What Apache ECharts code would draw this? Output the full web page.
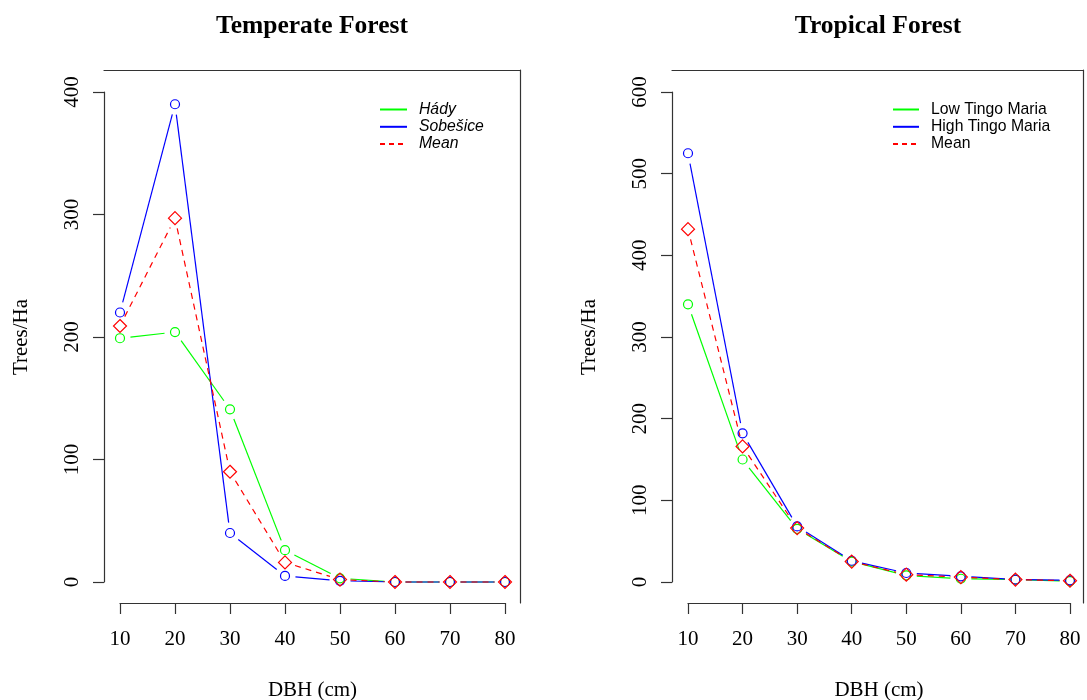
<!DOCTYPE html>
<html>
<head>
<meta charset="utf-8">
<script src="https://cdn.jsdelivr.net/npm/echarts@6/dist/echarts.min.js"></script>
<style>
  html, body { margin: 0; padding: 0; background: #fff; }
  #chart { width: 1087px; height: 700px; }
</style>
</head>
<body>
<div id="chart"></div>
<script>
// Diameter classes (cm) shared by both panels
const dbhClasses = [10, 20, 30, 40, 50, 60, 70, 80];

// Temperate forest stands, trees per hectare
const hadyDensity     = [199, 204, 141, 26, 3, 0, 0, 0];
const sobesiceDensity = [220, 390, 40, 5, 1, 0, 0, 0];
const temperateMean   = [209, 297, 90, 16, 2, 0, 0, 0];

// Tropical forest stands, trees per hectare
const lowTingoDensity  = [340, 150, 65, 25, 8, 4, 3, 1];
const highTingoDensity = [525, 182, 68, 26, 11, 7, 3, 2];
const tropicalMean     = [432, 166, 66, 25, 9, 6, 3, 1.5];

// Axis ticks
const temperateYTicks = [0, 100, 200, 300, 400];
const tropicalYTicks  = [0, 100, 200, 300, 400, 500, 600];

const SERIF = '"Liberation Serif", "Times New Roman", serif';
const SANS = '"Liberation Sans", Arial, sans-serif';
const GREEN = '#00ff00', BLUE = '#0000ff', RED = '#ff0000';
const AXIS_COLOR = '#333';
const LINE_W = 1.2;
const GAP = 10.5; // gap left around each point, as in type = "b" plots

function pairs(values) {
  return dbhClasses.map((d, i) => [d, values[i]]);
}
function segments(values) {
  const out = [];
  for (let i = 0; i < dbhClasses.length - 1; i++) {
    out.push([dbhClasses[i], values[i], dbhClasses[i + 1], values[i + 1]]);
  }
  return out;
}

// Line between consecutive points, trimmed at both ends
function gappedLine(panel, values, color, dashed) {
  return {
    type: 'custom',
    coordinateSystem: 'cartesian2d',
    xAxisIndex: panel, yAxisIndex: panel,
    silent: true,
    data: segments(values),
    encode: { x: [0, 2], y: [1, 3] },
    renderItem(params, api) {
      const a = api.coord([api.value(0), api.value(1)]);
      const b = api.coord([api.value(2), api.value(3)]);
      const dx = b[0] - a[0], dy = b[1] - a[1];
      const len = Math.hypot(dx, dy);
      if (len <= 2 * GAP) return null;
      const ux = dx / len, uy = dy / len;
      return {
        type: 'line',
        shape: { x1: a[0] + ux * GAP, y1: a[1] + uy * GAP, x2: b[0] - ux * GAP, y2: b[1] - uy * GAP },
        style: { stroke: color, lineWidth: LINE_W, lineDash: dashed ? [6, 5] : null, fill: null }
      };
    }
  };
}

function markers(panel, values, color, symbol, size) {
  return {
    type: 'scatter',
    xAxisIndex: panel, yAxisIndex: panel,
    silent: true,
    symbol: symbol,
    symbolSize: size,
    data: pairs(values),
    itemStyle: { color: 'rgba(0,0,0,0)', borderColor: color, borderWidth: LINE_W, opacity: 1 },
    emphasis: { disabled: true },
    z: 3
  };
}

// Empty series that only feed the legends with a plain line key
function legendSeries(name, color, dashed) {
  return {
    type: 'line', name: name, data: [], symbol: 'none',
    xAxisIndex: 0, yAxisIndex: 0,
    lineStyle: { color: color, width: LINE_W, type: dashed ? [5, 4] : 'solid' },
    itemStyle: { color: 'rgba(0,0,0,0)', borderWidth: 0 }
  };
}

const tickText = { fontFamily: SERIF, fontSize: 21, color: '#000' };

function dbhAxis(grid) {
  return {
    type: 'value', gridIndex: grid,
    min: 10, max: 80, interval: 10,
    offset: 21,
    name: 'DBH (cm)', nameLocation: 'middle', nameGap: 77,
    nameTextStyle: { fontFamily: SERIF, fontSize: 21, color: '#000' },
    axisLine: { show: true, onZero: false, lineStyle: { color: AXIS_COLOR, width: LINE_W } },
    axisTick: { show: true, length: 11, lineStyle: { color: AXIS_COLOR, width: LINE_W } },
    axisLabel: Object.assign({ margin: 26 }, tickText),
    splitLine: { show: false }
  };
}

function densityAxis(grid, ticks) {
  return {
    type: 'value', gridIndex: grid,
    min: ticks[0], max: ticks[ticks.length - 1], interval: ticks[1] - ticks[0],
    offset: 16,
    name: 'Trees/Ha', nameLocation: 'middle', nameGap: 72, nameRotate: 90,
    nameTextStyle: { fontFamily: SERIF, fontSize: 21, color: '#000' },
    axisLine: { show: true, onZero: false, lineStyle: { color: AXIS_COLOR, width: LINE_W } },
    axisTick: { show: true, length: 11, lineStyle: { color: AXIS_COLOR, width: LINE_W } },
    axisLabel: Object.assign({ margin: 21, rotate: 90 }, tickText),
    splitLine: { show: false }
  };
}

// Top and right edges of each panel's frame
function frameAxis(grid, position) {
  return {
    type: 'value', gridIndex: grid, position: position,
    min: 0, max: 1, silent: true,
    axisLine: { show: true, onZero: false, lineStyle: { color: AXIS_COLOR, width: LINE_W } },
    axisTick: { show: false }, axisLabel: { show: false }, splitLine: { show: false }
  };
}

const legendText = { fontFamily: SANS, fontSize: 15.75, color: '#000', lineHeight: 17, padding: [0, 0, 0, 7] };

const option = {
  animation: false,
  backgroundColor: '#fff',
  title: [
    { text: 'Temperate Forest', left: 307, top: 8, textAlign: 'center',
      textStyle: { fontFamily: SERIF, fontSize: 25.5, fontWeight: 'bold', color: '#000' } },
    { text: 'Tropical Forest', left: 873, top: 8, textAlign: 'center',
      textStyle: { fontFamily: SERIF, fontSize: 25.5, fontWeight: 'bold', color: '#000' } }
  ],
  legend: [
    { data: ['Hády', 'Sobešice', 'Mean'], orient: 'vertical', left: 374, top: 96,
      itemWidth: 27, itemHeight: 17, itemGap: 0.3, selectedMode: false,
      itemStyle: { opacity: 0 },
      textStyle: Object.assign({ fontStyle: 'italic' }, legendText) },
    { data: ['Low Tingo Maria', 'High Tingo Maria', 'Mean'], orient: 'vertical', left: 887, top: 96,
      itemWidth: 26, itemHeight: 17, itemGap: 0.3, selectedMode: false,
      itemStyle: { opacity: 0 },
      textStyle: legendText }
  ],
  grid: [
    { left: 120, top: 92, width: 385, height: 490, outerBoundsMode: 'none' },
    { left: 688, top: 92, width: 382, height: 490, outerBoundsMode: 'none' },
    { left: 104, top: 70, width: 416, height: 533, outerBoundsMode: 'none' },
    { left: 672, top: 70, width: 411.5, height: 533, outerBoundsMode: 'none' }
  ],
  xAxis: [dbhAxis(0), dbhAxis(1), frameAxis(2, 'top'), frameAxis(3, 'top')],
  yAxis: [densityAxis(0, temperateYTicks), densityAxis(1, tropicalYTicks), frameAxis(2, 'right'), frameAxis(3, 'right')],
  series: [
    legendSeries('Hády', GREEN, false),
    legendSeries('Sobešice', BLUE, false),
    legendSeries('Mean', RED, true),
    legendSeries('Low Tingo Maria', GREEN, false),
    legendSeries('High Tingo Maria', BLUE, false),

    gappedLine(0, hadyDensity, GREEN, false),
    markers(0, hadyDensity, GREEN, 'circle', 9),
    gappedLine(0, sobesiceDensity, BLUE, false),
    markers(0, sobesiceDensity, BLUE, 'circle', 9),
    gappedLine(0, temperateMean, RED, true),
    markers(0, temperateMean, RED, 'diamond', 13),

    gappedLine(1, lowTingoDensity, GREEN, false),
    markers(1, lowTingoDensity, GREEN, 'circle', 9),
    gappedLine(1, highTingoDensity, BLUE, false),
    markers(1, highTingoDensity, BLUE, 'circle', 9),
    gappedLine(1, tropicalMean, RED, true),
    markers(1, tropicalMean, RED, 'diamond', 13)
  ]
};

const chart = echarts.init(document.getElementById('chart'), null, { renderer: 'canvas' });
chart.setOption(option);
</script>
</body>
</html>
